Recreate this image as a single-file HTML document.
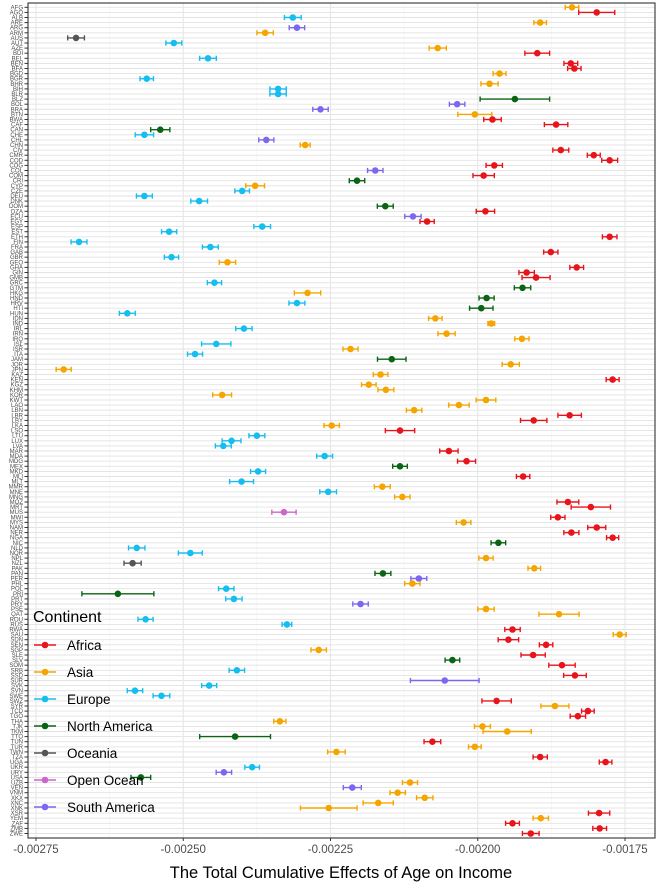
<!DOCTYPE html>
<html><head><meta charset="utf-8"><style>
body{margin:0;background:#fff;font-family:"Liberation Sans",sans-serif}
</style></head><body>
<svg id="chart" width="659" height="886" xmlns="http://www.w3.org/2000/svg"></svg>
<script>
const countries="AFG AGO ALB ARE ARG ARM AUS AUT AZE BDI BEL BEN BFA BGD BGR BHR BIH BLR BLZ BOL BRA BTN BWA CAF CAN CHE CHL CHN CIV CMR COD COG COL COM CRI CYP CZE DEU DNK DOM DZA ECU EGY ESP EST ETH FIN FRA GAB GBR GEO GHA GIN GMB GRC GTM HKG HND HRV HTI HUN IDN IND IRL IRN IRQ ISL ISR ITA JAM JOR JPN KAZ KEN KGZ KHM KOR KWT LAO LBN LBR LBY LKA LSO LTU LUX LVA MAR MDA MDG MEX MKD MLI MLT MMR MNE MNG MOZ MRT MUS MWI MYS NAM NER NGA NIC NLD NOR NPL NZL PAK PAN PER PHL POL PRI PRT PRY PSE QAT ROU RUS RWA SAU SDN SEN SGP SLE SLV SOM SRB SSD SUR SVK SVN SWE SWZ SYR TCD TGO THA TJK TKM TTO TUN TUR TWN TZA UGA UKR URY USA UZB VEN VNM XKX XNC XNK XSR YEM ZAF ZMB ZWE".split(" ");
const continentCodes=("SAESMSOESAEAASESEENMM"+"SAANEMSAAAAMANSEEENA"+"MAEEAEEAESAAAENSNENES"+"SESSESENSSSASSSSSSAA"+"SAEEEAEANEAESESAAPASA"+"AANEESOSNMSENEMSSEEA"+"SAASANAEAMEEEASAASSSN"+"ASSAAEMNSMSSSSASAAA").split("");
// estimates in units of 1e-5
const estimates=[-184.0,-179.8,-231.4,-189.4,-230.7,-236.1,-268.2,-251.6,-206.8,-189.9,-245.8,-184.2,-183.6,-196.3,-256.2,-198.0,-233.9,-233.9,-193.7,-203.5,-226.7,
-200.5,-197.5,-186.7,-253.9,-256.6,-235.9,-229.3,-185.9,-180.3,-177.6,-197.2,-217.4,-199.0,-220.5,-237.8,-240.0,-256.6,-247.3,-215.7,-198.7,
-211.0,-208.6,-236.6,-252.4,-177.6,-267.7,-245.4,-187.6,-252.0,-242.5,-183.2,-191.7,-190.1,-244.7,-192.4,-228.9,-198.5,-230.7,-199.4,-259.5,-207.2,
-197.7,-239.7,-205.3,-192.5,-244.4,-221.6,-248.0,-214.6,-194.4,-270.3,-216.5,-177.1,-218.5,-215.6,-243.4,-198.6,-203.2,-210.8,-184.4,-190.5,
-224.8,-213.2,-237.5,-241.8,-243.2,-204.9,-226.0,-201.9,-213.2,-237.3,-192.3,-240.1,-216.2,-225.4,-212.8,-184.7,-180.8,-232.9,-186.4,-202.4,-179.8,
-184.1,-177.1,-196.5,-257.9,-248.8,-198.6,-258.6,-190.4,-216.1,-210.0,-211.1,-242.7,-261.1,-241.4,-219.9,-198.6,-186.2,-256.4,-232.4,-194.1,
-175.9,-194.8,-188.4,-227.0,-190.6,-204.3,-185.7,-240.9,-183.5,-205.6,-245.6,-258.2,-253.7,-196.8,-186.9,-181.3,-183.0,-233.6,-199.2,-195.0,-241.2,
-207.7,-200.5,-224.0,-189.4,-178.3,-238.3,-243.1,-257.2,-211.5,-221.3,-213.6,-209.0,-216.9,-225.3,-179.4,-189.3,-194.1,-179.3,-191.0];
const errors=[1.14,3.06,1.42,1.07,1.31,1.39,1.42,1.35,1.46,2.10,1.42,1.17,1.14,1.10,1.14,1.46,1.39,1.39,5.90,1.31,1.31,
2.88,1.49,1.99,1.63,1.56,1.28,0.85,1.35,1.10,1.35,1.39,1.31,1.81,1.31,1.60,1.24,1.35,1.42,1.35,1.56,
1.39,1.21,1.42,1.28,1.24,1.35,1.35,1.21,1.21,1.39,1.17,1.31,2.38,1.21,1.39,2.24,1.28,1.35,1.99,1.35,1.14,
0.57,1.39,1.46,1.21,2.49,1.28,1.28,2.42,1.46,1.28,1.24,1.10,1.24,1.35,1.60,1.67,1.74,1.31,1.99,2.24,
1.31,2.49,1.35,1.60,1.35,1.56,1.35,1.53,1.24,1.28,1.14,2.03,1.35,1.42,1.31,1.85,3.34,2.06,1.21,1.24,1.53,
1.28,1.03,1.24,1.39,2.03,1.21,1.46,1.07,1.35,1.35,1.31,1.31,6.11,1.39,1.31,1.39,3.41,1.28,0.82,1.31,
1.10,1.74,1.14,1.31,2.06,1.24,2.24,1.31,1.92,5.83,1.28,1.31,1.42,2.49,2.38,1.07,1.31,1.03,1.35,4.09,6.01,
1.42,1.07,1.49,1.21,1.07,1.24,1.31,1.67,1.28,1.53,1.31,1.39,2.56,4.80,1.81,1.31,1.17,1.17,1.42];
const tickValues=[-275,-250,-225,-200,-175];
const tickLabels=["-0.00275","-0.00250","-0.00225","-0.00200","-0.00175"];
const legendNames=["Africa","Asia","Europe","North America","Oceania","Open Ocean","South America"];
const legendCodes=["A","S","E","N","O","P","M"];
const colorMap={A:"#e8141c",S:"#f5a500",E:"#16bdef",N:"#0a6414",O:"#555555",P:"#cc66cc",M:"#7b68ee"};

const NS="http://www.w3.org/2000/svg";
const svg=document.getElementById("chart");
function mk(tag,attrs,parent){const e=document.createElementNS(NS,tag);for(const k in attrs)e.setAttribute(k,attrs[k]);(parent||svg).appendChild(e);return e;}
const PL=28,PR=655,PT=3,PB=838;
const xs=v=>36+(v+275)/100*589;
const ys=i=>7.3+i*5.1;

const bg=mk("rect",{x:PL,y:PT,width:PR-PL,height:PB-PT,fill:"#fff"});


for(let k=0;k<tickValues.length-1;k++){const v=(tickValues[k]+tickValues[k+1])/2;mk("line",{x1:xs(v),x2:xs(v),y1:PT,y2:PB,stroke:"#f2f2f2","stroke-width":0.6});}
countries.forEach((c,i)=>{mk("line",{x1:PL,x2:PR,y1:ys(i),y2:ys(i),stroke:"#e3e3e3","stroke-width":0.9});});
tickValues.forEach(v=>{mk("line",{x1:xs(v),x2:xs(v),y1:PT,y2:PB,stroke:"#e6e6e6","stroke-width":1.1});});

countries.forEach((c,i)=>{
  const col=colorMap[continentCodes[i]]||"#999";
  const g=mk("g",{});
  
  
  const lo=xs(estimates[i]-errors[i]),hi=xs(estimates[i]+errors[i]),y=ys(i);
  mk("line",{x1:lo,x2:hi,y1:y,y2:y,stroke:col,"stroke-width":1.4},g);
  mk("line",{x1:lo,x2:lo,y1:y-2.6,y2:y+2.6,stroke:col,"stroke-width":1.4},g);
  mk("line",{x1:hi,x2:hi,y1:y-2.6,y2:y+2.6,stroke:col,"stroke-width":1.4},g);
  mk("circle",{cx:xs(estimates[i]),cy:y,r:3.3,fill:col},g);
  const t=mk("text",{x:23,y:y+2,"text-anchor":"end","font-size":"6","fill":"#4d4d4d"});
  t.textContent=c;
  
  
  mk("line",{x1:24.5,x2:PL,y1:y,y2:y,stroke:"#333","stroke-width":1});
});
const border=mk("rect",{x:PL,y:PT,width:PR-PL,height:PB-PT,fill:"none",stroke:"#333","stroke-width":1.1});


tickValues.forEach((v,k)=>{
  mk("line",{x1:xs(v),x2:xs(v),y1:PB,y2:PB+3,stroke:"#333","stroke-width":1});
  const t=mk("text",{x:xs(v),y:PB+15,"text-anchor":"middle","font-size":"11.5",fill:"#4d4d4d"});
  t.textContent=tickLabels[k];
  
  
});
const xt=mk("text",{x:341,y:878,"text-anchor":"middle","font-size":"16.5",fill:"#000"});
xt.textContent="The Total Cumulative Effects of Age on Income";


const lg=mk("g",{});


const lt=mk("text",{x:33,y:622,"font-size":"16",fill:"#000"},lg);
lt.textContent="Continent";


legendNames.forEach((n,k)=>{
  const col=colorMap[legendCodes[k]];const y=645+k*27;
  const e=mk("g",{},lg);
  
  
  mk("line",{x1:34,x2:56,y1:y,y2:y,stroke:col,"stroke-width":1.4},e);
  mk("circle",{cx:45,cy:y,r:3.3,fill:col},e);
  const t=mk("text",{x:67,y:y+5,"font-size":"13.5",fill:"#000"},e);
  t.textContent=n;
});
</script>
</body></html>
